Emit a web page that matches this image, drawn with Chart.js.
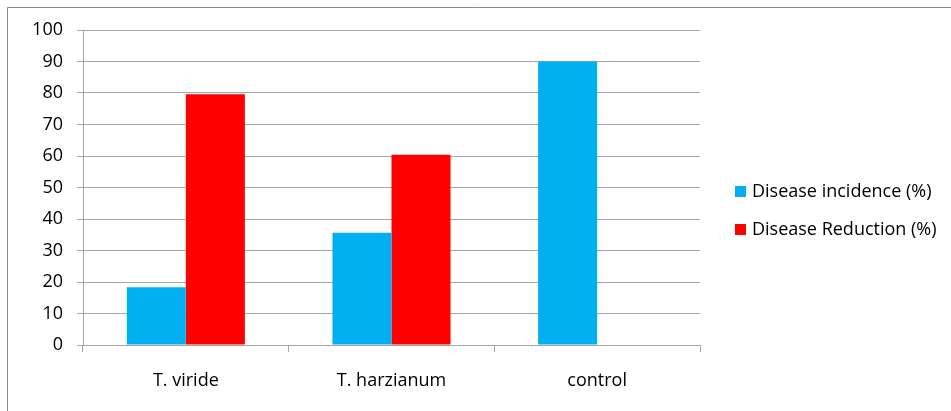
<!DOCTYPE html>
<html>
<head>
<meta charset="utf-8">
<script src="https://cdn.jsdelivr.net/npm/chart.js@4/dist/chart.umd.min.js"></script>
<style>
  html, body { margin: 0; padding: 0; background: #fff; }
  #wrap { position: relative; width: 951px; height: 411px; }
</style>
</head>
<body>
<div id="wrap"><canvas id="c" width="951" height="411"></canvas></div>
<script>
// Treatments and measured values (%)
const categories = ['T. viride', 'T. harzianum', 'control'];
const seriesNames = ['Disease incidence (%)', 'Disease Reduction (%)'];
const diseaseIncidence = [18.33, 35.67, 90];
const diseaseReduction = [79.63, 60.37, null];
const yTicks = [0, 10, 20, 30, 40, 50, 60, 70, 80, 90, 100];

const FONT = '"Open Sans", Lato, sans-serif';
const FSIZE = 18;
const GRID = '#a6a6a6';

// Frame around the chart and a legend drawn to the right of the plot
const framePlugin = {
  id: 'frame',
  beforeDraw(chart) {
    const ctx = chart.ctx;
    ctx.save();
    ctx.fillStyle = '#fff';
    ctx.fillRect(0, 0, chart.width, chart.height);
    ctx.strokeStyle = '#8a8a8a';
    ctx.lineWidth = 1;
    ctx.beginPath();
    ctx.moveTo(7.5, chart.height);
    ctx.lineTo(7.5, 7.5);
    ctx.lineTo(chart.width, 7.5);
    ctx.stroke();
    ctx.restore();
  },
  afterDraw(chart) {
    const ctx = chart.ctx;
    ctx.save();
    ctx.font = FSIZE + 'px ' + FONT;
    ctx.textBaseline = 'middle';
    ctx.textAlign = 'left';
    const x0 = 735, y0 = 191, step = 38;
    chart.data.datasets.forEach((ds, i) => {
      const y = y0 + i * step;
      ctx.fillStyle = ds.backgroundColor;
      ctx.fillRect(x0, y - 5, 11, 11);
      ctx.fillStyle = '#000';
      ctx.fillText(ds.label, x0 + 17, y + 1);
    });
    ctx.restore();
  }
};

new Chart(document.getElementById('c'), {
  type: 'bar',
  data: {
    labels: categories,
    datasets: [
      { label: seriesNames[0], data: diseaseIncidence, backgroundColor: '#00b0f0' },
      { label: seriesNames[1], data: diseaseReduction, backgroundColor: '#ff0000' }
    ]
  },
  options: {
    responsive: false,
    animation: false,
    devicePixelRatio: 1,
    layout: { padding: { left: 0, top: 30, right: 251, bottom: 0 } },
    datasets: { bar: { categoryPercentage: 0.574, barPercentage: 1.0 } },
    plugins: { legend: { display: false }, tooltip: { enabled: false } },
    scales: {
      x: {
        offset: true,
        grid: { offset: true, drawOnChartArea: false, color: GRID, tickLength: 7, tickColor: GRID },
        border: { color: GRID },
        ticks: { color: '#000', font: { family: FONT, size: FSIZE }, padding: 18 },
        afterFit(scale) { scale.height = 66; }
      },
      y: {
        min: 0, max: 100,
        afterBuildTicks(scale) { scale.ticks = yTicks.map(v => ({ value: v })); },
        grid: { color: GRID, tickLength: 6, tickColor: GRID },
        border: { color: GRID },
        ticks: { color: '#000', font: { family: FONT, size: FSIZE }, padding: 14 },
        afterFit(scale) { scale.width = 83; }
      }
    }
  },
  plugins: [framePlugin]
});
</script>
</body>
</html>
